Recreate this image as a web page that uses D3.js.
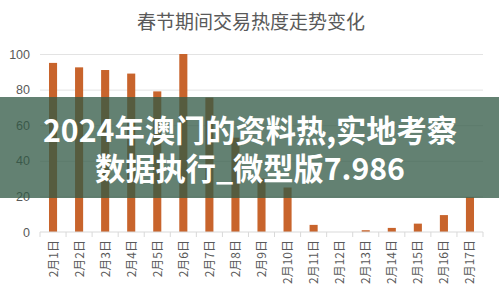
<!DOCTYPE html>
<html>
<head>
<meta charset="utf-8">
<script src="https://cdn.jsdelivr.net/npm/d3@7"></script>
<style>
  html, body { margin: 0; padding: 0; background: #fff; }
  #chart { width: 499px; height: 296px; }
  text { font-family: "Noto Sans CJK SC", "Noto Sans", sans-serif; }
</style>
</head>
<body>
<div id="chart"></div>
<script>
// 春节期间交易热度 — values
const days = ['2月1日', '2月2日', '2月3日', '2月4日', '2月5日', '2月6日', '2月7日', '2月8日', '2月9日',
  '2月10日', '2月11日', '2月12日', '2月13日', '2月14日', '2月15日', '2月16日', '2月17日'];
const heat = [95, 92.5, 91, 89, 79, 100, 75.5, 53, 30, 25, 4, 0, 1, 2.3, 4.7, 9.5, 19.5];
const yTicks = [0, 20, 40, 60, 80, 100];
const chartTitle = '春节期间交易热度走势变化';
const bannerLines = ['2024年澳门的资料热,实地考察', '数据执行_微型版7.986'];

const W = 499, H = 296;
const margin = { top: 54, right: 16, bottom: 64, left: 40 };
const plotW = W - margin.left - margin.right;
const plotH = H - margin.top - margin.bottom;

const svg = d3.select('#chart').append('svg').attr('width', W).attr('height', H);

svg.append('text')
  .attr('x', 251).attr('y', 29)
  .attr('text-anchor', 'middle')
  .attr('font-size', 19)
  .attr('fill', '#595959')
  .text(chartTitle);

const x = d3.scaleBand().domain(days).range([0, plotW]).paddingInner(0.69).paddingOuter(0.345);
const xb = d3.scaleBand().domain(days).range([0, plotW]);
const y = d3.scaleLinear().domain([0, 100]).range([plotH, 0]);

const g = svg.append('g').attr('transform', `translate(${margin.left},${margin.top})`);

// gridlines
g.append('g')
  .call(d3.axisLeft(y).tickValues(yTicks.slice(1)).tickSize(-plotW).tickFormat(''))
  .call((s) => s.select('.domain').remove())
  .selectAll('line').attr('stroke', '#e3e3e3');

// y labels
g.append('g')
  .call(d3.axisLeft(y).tickValues(yTicks).tickSize(0).tickPadding(10))
  .call((s) => s.select('.domain').remove())
  .selectAll('text')
  .attr('font-size', 12.5)
  .attr('fill', '#595959')
  .style('font-family', '"Liberation Sans", Arial, sans-serif');

// bars
g.selectAll('rect.bar')
  .data(days)
  .join('rect')
  .attr('class', 'bar')
  .attr('x', (d) => x(d))
  .attr('y', (d, i) => y(heat[i]))
  .attr('width', x.bandwidth())
  .attr('height', (d, i) => plotH - y(heat[i]))
  .attr('fill', '#c8642c');

// baseline with category boundary ticks
g.append('line')
  .attr('x1', 0).attr('x2', plotW)
  .attr('y1', plotH).attr('y2', plotH)
  .attr('stroke', '#d9d9d9');
g.selectAll('line.sep')
  .data(days.concat(['end']))
  .join('line')
  .attr('class', 'sep')
  .attr('x1', (d, i) => i * xb.step()).attr('x2', (d, i) => i * xb.step())
  .attr('y1', plotH).attr('y2', plotH + 5)
  .attr('stroke', '#d9d9d9');

// x labels, rotated
g.selectAll('text.xl')
  .data(days)
  .join('text')
  .attr('class', 'xl')
  .attr('transform', (d) => `translate(${x(d) + x.bandwidth() / 2 + 4.5},${plotH + 8}) rotate(-90)`)
  .attr('text-anchor', 'end')
  .attr('font-size', 12)
  .attr('fill', '#595959')
  .text((d) => d);

// overlay banner
svg.append('rect')
  .attr('x', 0).attr('y', 97)
  .attr('width', W).attr('height', 101)
  .attr('fill', 'rgb(50,90,70)')
  .attr('fill-opacity', 0.76);

const bannerWidths = [414, 310];
bannerLines.forEach((line, i) => {
  const t = svg.append('text')
    .attr('x', 250)
    .attr('y', 142 + i * 38)
    .attr('text-anchor', 'middle')
    .attr('font-size', 28)
    .attr('font-weight', 'bold')
    .attr('fill', '#fff')
    .text(line);
  const len = t.node().getComputedTextLength();
  t.attr('font-size', 28 * bannerWidths[i] / len);
});
</script>
</body>
</html>
